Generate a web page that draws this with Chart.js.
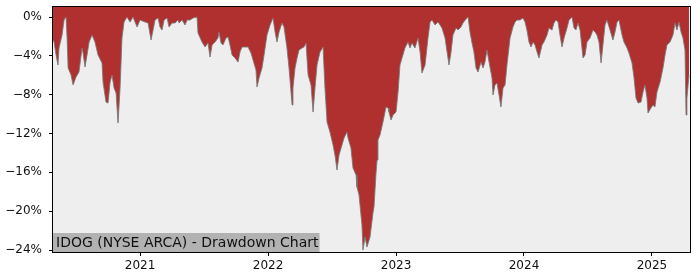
<!DOCTYPE html>
<html>
<head>
<meta charset="utf-8">
<script src="https://cdn.jsdelivr.net/npm/chart.js@4/dist/chart.umd.min.js"></script>
<style>
  html, body { margin: 0; padding: 0; background: #ffffff; }
  #wrap { width: 700px; height: 280px; }
</style>
</head>
<body>
<div id="wrap"><canvas id="c" width="700" height="280"></canvas></div>
<script>
// Decimal-year dates of the samples
const dates = [
  2020.320, 2020.328, 2020.344, 2020.359, 2020.367, 2020.391, 2020.406, 2020.422, 2020.430, 2020.438,
  2020.461, 2020.477, 2020.500, 2020.523, 2020.547, 2020.555, 2020.570, 2020.586, 2020.602, 2020.625,
  2020.648, 2020.672, 2020.703, 2020.711, 2020.734, 2020.750, 2020.766, 2020.781, 2020.797, 2020.813,
  2020.828, 2020.844, 2020.859, 2020.875, 2020.898, 2020.922, 2020.945, 2020.977, 2021.000, 2021.039,
  2021.063, 2021.086, 2021.102, 2021.117, 2021.141, 2021.156, 2021.172, 2021.188, 2021.211, 2021.227,
  2021.250, 2021.273, 2021.297, 2021.305, 2021.328, 2021.352, 2021.367, 2021.391, 2021.414, 2021.445,
  2021.453, 2021.484, 2021.508, 2021.531, 2021.547, 2021.563, 2021.586, 2021.609, 2021.617, 2021.633,
  2021.648, 2021.672, 2021.688, 2021.703, 2021.719, 2021.742, 2021.766, 2021.781, 2021.797, 2021.820,
  2021.844, 2021.867, 2021.883, 2021.906, 2021.914, 2021.930, 2021.953, 2021.969, 2021.992, 2022.016,
  2022.039, 2022.055, 2022.070, 2022.086, 2022.109, 2022.125, 2022.148, 2022.164, 2022.188, 2022.195,
  2022.211, 2022.227, 2022.242, 2022.266, 2022.281, 2022.297, 2022.313, 2022.336, 2022.352, 2022.367,
  2022.383, 2022.406, 2022.430, 2022.445, 2022.461, 2022.484, 2022.508, 2022.523, 2022.539, 2022.555,
  2022.578, 2022.594, 2022.617, 2022.625, 2022.648, 2022.664, 2022.688, 2022.695, 2022.711, 2022.734,
  2022.742, 2022.758, 2022.773, 2022.797, 2022.820, 2022.828, 2022.844, 2022.852, 2022.859, 2022.875,
  2022.898, 2022.922, 2022.938, 2022.945, 2022.961, 2022.977, 2023.000, 2023.016, 2023.031, 2023.047,
  2023.070, 2023.094, 2023.109, 2023.125, 2023.148, 2023.172, 2023.188, 2023.203, 2023.227, 2023.250,
  2023.266, 2023.281, 2023.305, 2023.328, 2023.344, 2023.359, 2023.383, 2023.406, 2023.414, 2023.430,
  2023.445, 2023.469, 2023.484, 2023.508, 2023.523, 2023.547, 2023.563, 2023.578, 2023.594, 2023.609,
  2023.625, 2023.641, 2023.664, 2023.680, 2023.695, 2023.711, 2023.727, 2023.750, 2023.758, 2023.773,
  2023.789, 2023.805, 2023.820, 2023.836, 2023.852, 2023.867, 2023.891, 2023.914, 2023.930, 2023.945,
  2023.969, 2023.992, 2024.008, 2024.023, 2024.039, 2024.055, 2024.070, 2024.086, 2024.102, 2024.117,
  2024.141, 2024.156, 2024.180, 2024.195, 2024.219, 2024.234, 2024.250, 2024.266, 2024.281, 2024.297,
  2024.313, 2024.336, 2024.352, 2024.375, 2024.391, 2024.406, 2024.422, 2024.438, 2024.453, 2024.461,
  2024.477, 2024.492, 2024.516, 2024.539, 2024.555, 2024.570, 2024.586, 2024.602, 2024.617, 2024.633,
  2024.648, 2024.672, 2024.695, 2024.711, 2024.727, 2024.742, 2024.766, 2024.781, 2024.805, 2024.820,
  2024.844, 2024.859, 2024.875, 2024.891, 2024.914, 2024.930, 2024.945, 2024.961, 2024.969, 2024.992,
  2025.008, 2025.023, 2025.039, 2025.063, 2025.086, 2025.102, 2025.117, 2025.141, 2025.164, 2025.180,
  2025.195, 2025.211, 2025.227, 2025.242, 2025.258, 2025.266, 2025.273, 2025.289
];

// Drawdown in percent
const drawdown = [
  -2.37, -2.58, -3.91, -4.94, -3.19, -1.85, -0.31, 0.00, -2.16, -5.25,
  -5.97, -7.00, -6.18, -5.67, -3.19, -3.71, -5.15, -3.91, -2.58, -1.85,
  -2.58, -3.91, -4.74, -6.70, -8.76, -8.86, -6.70, -5.97, -7.31, -7.83,
  -10.92, -7.31, -2.16, -0.52, 0.00, -0.52, 0.00, -1.03, -0.31, -0.52,
  -0.62, -2.37, -1.34, -0.31, -0.10, -1.03, -1.34, -0.31, -0.10, -1.03,
  -0.62, -0.62, -0.31, -0.62, -0.31, -0.82, -0.31, -0.31, -0.10, 0.00,
  -1.65, -2.58, -3.09, -2.68, -4.12, -2.88, -2.58, -2.16, -1.55, -2.68,
  -2.88, -2.16, -2.06, -2.88, -3.91, -4.22, -4.64, -3.61, -3.09, -3.09,
  -3.09, -3.71, -4.43, -5.46, -7.21, -6.28, -5.25, -3.91, -1.85, -0.82,
  -0.10, -1.55, -2.58, -1.55, -0.62, -1.03, -3.19, -5.25, -9.06, -7.31,
  -5.25, -4.22, -3.40, -3.19, -3.09, -2.68, -5.97, -7.00, -9.79, -7.31,
  -4.94, -3.61, -3.09, -7.31, -10.82, -11.85, -13.18, -14.21, -15.76, -14.21,
  -13.18, -12.46, -11.85, -12.46, -13.49, -15.55, -16.27, -17.51, -18.33, -21.42,
  -24.00, -22.66, -23.69, -22.66, -20.19, -19.57, -16.07, -14.73, -12.67, -12.15,
  -10.82, -9.27, -9.37, -9.79, -10.61, -10.09, -9.79, -7.73, -4.94, -4.22,
  -3.19, -2.58, -3.19, -2.68, -3.19, -2.16, -3.61, -5.77, -4.94, -2.16,
  -0.52, -0.31, -0.82, -0.52, -0.82, -1.13, -2.16, -4.22, -4.94, -3.61,
  -1.85, -1.13, -1.34, -1.03, -0.62, -0.21, 0.00, -1.55, -2.68, -3.61,
  -5.25, -5.67, -4.64, -5.25, -4.64, -3.40, -4.64, -6.28, -8.03, -7.00,
  -6.80, -8.03, -9.27, -7.31, -7.00, -4.94, -2.16, -1.03, -0.52, -0.31,
  -0.31, -0.10, -0.52, -1.34, -2.58, -3.09, -2.58, -2.88, -3.61, -4.22,
  -2.88, -2.58, -1.85, -1.13, -1.34, -0.62, -0.31, -0.52, -1.85, -3.09,
  -2.16, -1.13, -0.31, 0.00, -1.13, -1.34, -0.62, -1.34, -3.19, -4.22,
  -3.91, -2.58, -2.16, -1.34, -1.55, -1.85, -2.58, -4.74, -2.88, -0.82,
  -0.31, -1.34, -2.37, -1.55, -0.52, -0.31, -1.85, -2.58, -3.19, -3.71,
  -4.74, -6.18, -8.34, -8.86, -8.76, -7.73, -7.00, -8.34, -9.89, -9.37,
  -9.06, -9.27, -7.73, -6.70, -5.25, -3.91, -2.88, -2.58, -1.85, -0.62,
  -1.34, -0.52, -1.55, -2.16, -3.40, -10.09, -8.34, -5.97
];

const xTickYears = [2021, 2022, 2023, 2024, 2025];
const yTickValues = [0, -4, -8, -12, -16, -20, -24];
const chartTitle = 'IDOG (NYSE ARCA) - Drawdown Chart';

const points = dates.map((d, i) => ({ x: d, y: drawdown[i] }));

const frame = {
  id: 'frame',
  beforeDatasetsDraw(chart) {
    const { ctx, chartArea: a } = chart;
    ctx.save();
    ctx.fillStyle = '#eeeeee';
    ctx.fillRect(a.left, a.top, a.right - a.left, a.bottom - a.top);
    ctx.restore();
  },
  afterDraw(chart) {
    const { ctx, chartArea: a } = chart;
    ctx.save();
    // title box
    ctx.font = '14px "DejaVu Sans"';
    const w = ctx.measureText(chartTitle).width;
    ctx.fillStyle = 'rgb(178,178,178)';
    ctx.fillRect(a.left, a.bottom - 19, w + 4, 19);
    ctx.fillStyle = '#111111';
    ctx.textBaseline = 'middle';
    ctx.textAlign = 'left';
    ctx.fillText(chartTitle, a.left + 3, a.bottom - 9);
    // border
    ctx.strokeStyle = '#000000';
    ctx.lineWidth = 1;
    ctx.strokeRect(Math.round(a.left) - 0.5, Math.round(a.top) - 0.5,
                   Math.round(a.right - a.left) + 1, Math.round(a.bottom - a.top) + 1);
    ctx.restore();
  }
};

new Chart(document.getElementById('c'), {
  type: 'line',
  data: {
    datasets: [{
      data: points,
      fill: 'end',
      backgroundColor: 'rgb(176,47,47)',
      borderColor: 'rgba(120,120,120,0.85)',
      borderWidth: 1,
      pointRadius: 0,
      tension: 0
    }]
  },
  options: {
    responsive: false,
    animation: false,
    events: [],
    layout: { padding: { top: 7, right: 10, left: 0, bottom: 0 } },
    plugins: { legend: { display: false }, tooltip: { enabled: false }, title: { display: false } },
    scales: {
      x: {
        type: 'linear',
        min: 2020.320,
        max: 2025.297,
        afterBuildTicks: (s) => { s.ticks = xTickYears.map(v => ({ value: v })); },
        afterFit: (s) => { s.height = 28; s.paddingLeft = 0; s.paddingRight = 0; },
        grid: { drawOnChartArea: false, drawTicks: true, tickLength: 4, color: '#000000', tickWidth: 1 },
        border: { display: false },
        ticks: {
          color: '#111111',
          font: { family: 'DejaVu Sans', size: 12 },
          padding: 3,
          maxRotation: 0,
          autoSkip: false,
          callback: (v) => String(v)
        }
      },
      y: {
        min: -24.2,
        max: 1.03,
        afterBuildTicks: (s) => { s.ticks = yTickValues.map(v => ({ value: v })); },
        afterFit: (s) => { s.width = 53; s.paddingTop = 0; s.paddingBottom = 0; },
        grid: { drawOnChartArea: false, drawTicks: true, tickLength: 4, color: '#000000', tickWidth: 1 },
        border: { display: false },
        ticks: {
          color: '#111111',
          font: { family: 'DejaVu Sans', size: 12 },
          padding: 7,
          autoSkip: false,
          callback: (v) => (v === 0 ? '0' : '\u2212' + Math.abs(v)) + '%'
        }
      }
    }
  },
  plugins: [frame]
});
</script>
</body>
</html>
